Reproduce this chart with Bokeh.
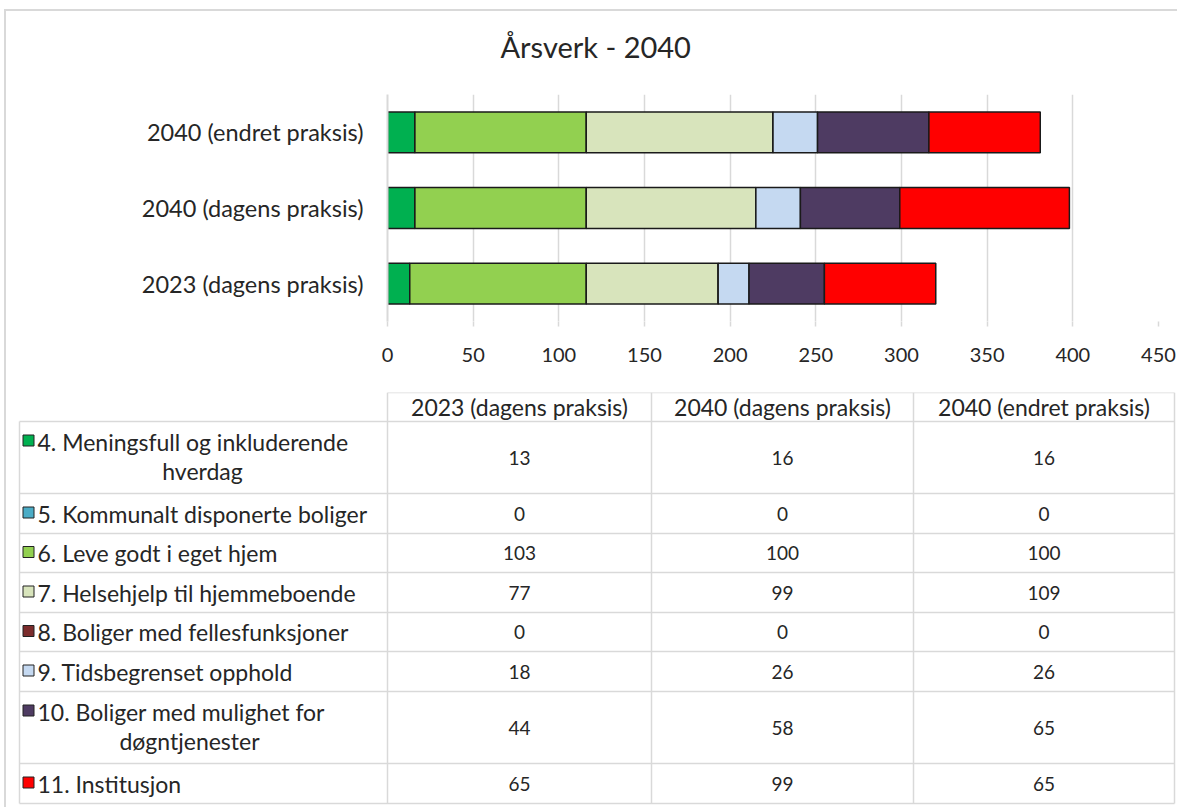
from bokeh.plotting import figure
from bokeh.models import Range1d, FactorRange, SingleIntervalTicker, ColumnDataSource, Title, InlineStyleSheet
from bokeh.layouts import column
from bokeh.core.properties import value
from bokeh.embed import file_html
from bokeh.resources import INLINE

# ---------------- data ----------------
categories = ["2023 (dagens praksis)", "2040 (dagens praksis)", "2040 (endret praksis)"]
series_names = [
    "4. Meningsfull og inkluderende hverdag",
    "5. Kommunalt disponerte boliger",
    "6. Leve godt i eget hjem",
    "7. Helsehjelp til hjemmeboende",
    "8. Boliger med fellesfunksjoner",
    "9. Tidsbegrenset opphold",
    "10. Boliger med mulighet for døgntjenester",
    "11. Institusjon",
]
s4 = [13, 16, 16]
s5 = [0, 0, 0]
s6 = [103, 100, 100]
s7 = [77, 99, 109]
s8 = [0, 0, 0]
s9 = [18, 26, 26]
s10 = [44, 58, 65]
s11 = [65, 99, 65]
series_values = [s4, s5, s6, s7, s8, s9, s10, s11]
colors = ["#00B050", "#4BACC6", "#92D050", "#D8E4BC", "#7B2C2C", "#C5D9F1", "#4E3B62", "#FF0000"]
x_ticks_interval = 50
title_text = "Årsverk - 2040"

# ---------------- style ----------------
FONT = "Lato"
TXT = "#262626"
GRID = "#d9d9d9"
FS_AX = "23.5px"
FS_LBL = "23px"
FS_NUM = "20px"
FS_VAL = "19px"

# ---------------- chart ----------------
keys = ["s%d" % i for i in range(len(series_names))]
data = {"cat": categories}
for k, vals in zip(keys, series_values):
    data[k] = vals
src = ColumnDataSource(data)

p = figure(width=1176, height=392, y_range=FactorRange(factors=categories), x_range=Range1d(0, 450),
           output_backend="svg", toolbar_location=None,
           min_border_left=387, min_border_right=18, min_border_top=93, min_border_bottom=71,
           outline_line_color=None, background_fill_color="white", border_fill_color="white")
p.frame_align = False
p.title = Title(text=title_text, align="left", offset=113, text_font_size="29px",
                text_font=FONT, text_font_style="normal", text_color=TXT,
                vertical_align="top", standoff=57)
p.hbar_stack(keys, y="cat", height=0.54, color=colors, source=src,
             line_color="#1a1a1a", line_width=1.5)

p.xaxis.ticker = SingleIntervalTicker(interval=x_ticks_interval)
p.xaxis.axis_line_color = None
p.xaxis.major_tick_out = 5
p.xaxis.major_tick_in = 0
p.xaxis.major_tick_line_color = GRID
p.xaxis.major_tick_line_width = 1.5
p.xaxis.minor_tick_line_color = None
p.xaxis.major_label_standoff = 21
p.xaxis.major_label_text_font = FONT
p.xaxis.major_label_text_font_size = FS_NUM
p.xaxis.major_label_text_color = TXT

p.yaxis.axis_line_color = GRID
p.yaxis.axis_line_width = 2
p.yaxis.major_tick_line_color = None
p.yaxis.minor_tick_line_color = None
p.yaxis.major_label_standoff = 18
p.yaxis.major_label_text_font = FONT
p.yaxis.major_label_text_font_size = FS_AX
p.yaxis.major_label_text_color = TXT

p.xgrid.grid_line_color = GRID
p.xgrid.grid_line_width = 1.5
p.xgrid.ticker = SingleIntervalTicker(interval=x_ticks_interval)
p.ygrid.grid_line_color = None

# ---------------- data table (layout in page pixels) ----------------
COL_EDGES = [19, 387, 651, 913, 1174]
ROW_EDGES = [392, 421, 493, 533, 572, 612, 651, 691, 763, 803]

t = figure(width=1176, height=414, x_range=Range1d(0, 1176), y_range=Range1d(806, 392),
           output_backend="svg", toolbar_location=None, min_border=0,
           x_axis_location=None, y_axis_location=None, outline_line_color=None)
t.frame_align = False
t.xgrid.grid_line_color = None
t.ygrid.grid_line_color = None

# grid lines
hx0, hx1, hy = [], [], []
for i, y in enumerate(ROW_EDGES):
    hx0.append(COL_EDGES[0] if i > 0 else COL_EDGES[1])
    hx1.append(COL_EDGES[-1])
    hy.append(y)
t.segment(x0=hx0, y0=hy, x1=hx1, y1=hy, line_color=GRID, line_width=1.5)
vx, vy0, vy1 = [], [], []
for j, x in enumerate(COL_EDGES):
    vx.append(x)
    vy0.append(ROW_EDGES[1] if j == 0 else ROW_EDGES[0])
    vy1.append(ROW_EDGES[-1])
t.segment(x0=vx, y0=vy0, x1=vx, y1=vy1, line_color=GRID, line_width=1.5)

col_centers = [(COL_EDGES[c] + COL_EDGES[c + 1]) / 2 for c in range(1, 4)]
row_centers = [(ROW_EDGES[r] + ROW_EDGES[r + 1]) / 2 for r in range(len(ROW_EDGES) - 1)]

# header
t.text(x=col_centers, y=[row_centers[0]] * 3, text=categories, text_align="center",
       text_baseline="middle", text_font=value(FONT), text_font_size=FS_LBL, text_color=TXT)

# values
vx_, vy_, vt_ = [], [], []
for si, vals in enumerate(series_values):
    for ci, v in enumerate(vals):
        vx_.append(col_centers[ci])
        vy_.append(row_centers[si + 1])
        vt_.append(str(v))
t.text(x=vx_, y=vy_, text=vt_, text_align="center", text_baseline="middle",
       text_font=value(FONT), text_font_size=FS_VAL, text_color=TXT)

# legend labels (wrapping for two long names)
WRAP = {0: ("4. Meningsfull og inkluderende", "hverdag", 202),
        6: ("10. Boliger med mulighet for", "døgntjenester", 189)}
LINE_GAP = 14
sw_x, sw_y, l1x, l1y, l1t, l2x, l2y, l2t = [], [], [], [], [], [], [], []
for si, name in enumerate(series_names):
    yc = row_centers[si + 1]
    if si in WRAP:
        a, b, cx = WRAP[si]
        y1 = yc - LINE_GAP - 2
        l1t.append(a)
        l2x.append(cx); l2y.append(yc + LINE_GAP - 1); l2t.append(b)
    else:
        y1 = yc
        l1t.append(name)
    l1x.append(37); l1y.append(y1)
    sw_x.append(28); sw_y.append(y1 - 1)
t.rect(x=sw_x, y=sw_y, width=11, height=11, fill_color=colors, line_color="#222222", line_width=1)
t.text(x=l1x, y=l1y, text=l1t, text_align="left", text_baseline="middle",
       text_font=value(FONT), text_font_size=FS_LBL, text_color=TXT)
t.text(x=l2x, y=l2y, text=l2t, text_align="center", text_baseline="middle",
       text_font=value(FONT), text_font_size=FS_LBL, text_color=TXT)

border_css = InlineStyleSheet(css="""
:host { position: relative; }
:host::before {
  content: ""; position: absolute; left: 4px; top: 9px; right: -40px; bottom: -40px;
  border-left: 2px solid #d9d9d9; border-top: 2px solid #d9d9d9;
  pointer-events: none; z-index: 10;
}
""")
layout = column(p, t, spacing=0, stylesheets=[border_css])
open("out.html", "w").write(file_html(layout, INLINE))
